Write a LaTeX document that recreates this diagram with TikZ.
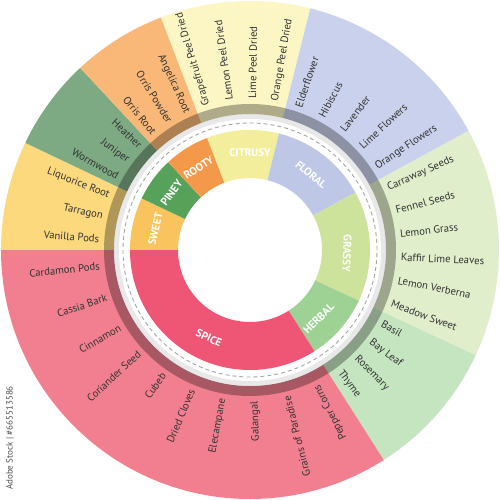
\documentclass[tikz,border=0pt]{standalone}
\usepackage{fontspec}
\setmainfont{PT Sans}
\usetikzlibrary{positioning}
\definecolor{citrusIn}{HTML}{F3EE9B}
\definecolor{citrusOut}{HTML}{FBF6C4}
\definecolor{floralIn}{HTML}{BFC7E6}
\definecolor{floralOut}{HTML}{CAD1EC}
\definecolor{grassyIn}{HTML}{CDE29B}
\definecolor{grassyOut}{HTML}{E1EECB}
\definecolor{herbalIn}{HTML}{9DD294}
\definecolor{herbalOut}{HTML}{C5E5C1}
\definecolor{spiceIn}{HTML}{EF5676}
\definecolor{spiceOut}{HTML}{F17F8F}
\definecolor{sweetIn}{HTML}{F9C35E}
\definecolor{sweetOut}{HTML}{FCD97D}
\definecolor{pineyIn}{HTML}{56A25A}
\definecolor{pineyOut}{HTML}{7DA983}
\definecolor{rootyIn}{HTML}{F4994A}
\definecolor{rootyOut}{HTML}{F9B877}
\definecolor{labelgray}{HTML}{333333}

\tikzset{
  outward/.style={anchor=west, inner sep=0pt, text=labelgray, font=\fontsize{10.7}{12}\selectfont},
  inward/.style={anchor=east, inner sep=0pt, text=labelgray, font=\fontsize{10.7}{12}\selectfont},
  catlabel/.style={inner sep=0pt, text=white, font=\bfseries\fontsize{11}{13}\selectfont},
  stockid/.style={inner sep=0pt, text=gray!60!black, font=\fontsize{9}{11}\selectfont}
}

% ring piece: colour, start angle, end angle, inner radius, outer radius
\newcommand{\sector}[5]{\fill[#1] (#2:#4pt) arc[start angle=#2, end angle=#3, radius=#4pt] -- (#3:#5pt) arc[start angle=#3, end angle=#2, radius=#5pt] -- cycle;}

% names round the outer ring: prefix, start, end, count, style, turn, names
\newcommand{\flavourlabels}[7]{%
  \foreach \txt [count=\i] in {#7} {%
    \pgfmathsetmacro\ang{#2-(\i-0.5)*(#2-(#3))/#4}%
    \pgfmathsetmacro\rot{\ang+#6}%
    \node[#5, rotate=\rot] (#1-\i) at (\ang:151pt) {\txt};
  }}

\begin{document}
\begin{tikzpicture}[x=1pt,y=1pt]
\useasboundingbox (-250,-250) rectangle (250,250);

% outer ring
\foreach \a/\b/\c in {111/76/citrusOut, 76/28.6/floralOut, 28.6/-25/grassyOut, -25/-57.5/herbalOut, -57.5/-180/spiceOut, 180/154.5/sweetOut, 154.5/133/pineyOut, 133/111/rootyOut}
  {\sector{\c}{\a}{\b}{136}{249}}

% white gap with shadow band
\fill[gray!18] (0,0) circle[radius=136pt];
\fill[white] (0,0) circle[radius=131pt];
\fill[black, opacity=.3, even odd rule] (0,0) circle[radius=146pt] circle[radius=136pt];
\draw[gray!70, line width=0.9pt, dash pattern=on 4pt off 3pt] (0,0) circle[radius=127pt];

% inner ring
\foreach \a/\b/\c in {111/76/citrusIn, 76/28.6/floralIn, 28.6/-25/grassyIn, -25/-57.5/herbalIn, -57.5/-180/spiceIn, 180/154.5/sweetIn, 154.5/133/pineyIn, 133/111/rootyIn}
  {\sector{\c}{\a}{\b}{72}{120}}

\foreach \a/\r/\t/\n in {90/0/CITRUSY/citrusy, 51/-39/FLORAL/floral, -2/-92/GRASSY/grassy, -45/45/HERBAL/herbal, -115/-25/SPICE/spice, 167.5/77.5/SWEET/sweet, 144/54/PINEY/piney, 122/32/ROOTY/rooty}
  \node[catlabel, rotate=\r] (\n) at (\a:97pt) {\t};

% flavour names
\flavourlabels{citrusy}{111}{76}{4}{outward}{0}{Grapefruit Peel Dried, Lemon Peel Dried, Lime Peel Dried, Orange Peel Dried}
\flavourlabels{floral}{76}{28.6}{5}{outward}{0}{Elderflower, Hibiscus, Lavender, Lime Flowers, Orange Flowers}
\flavourlabels{grassy}{28.6}{-25}{6}{outward}{0}{Carraway Seeds, Fennel Seeds, Lemon Grass, Kaffir Lime Leaves, Lemon Verberna, Meadow Sweet}
\flavourlabels{herbal}{-25}{-57.5}{4}{outward}{0}{Basil, Bay Leaf, Rosemary, Thyme}
\flavourlabels{spice}{-57.5}{-180}{10}{inward}{180}{Pepper Corns, Grains of Paradise, Galangal, Elecampane, Dried Cloves, Cubeb, Coriander Seed, Cinnamon, Cassia Bark, Cardamon Pods}
\flavourlabels{sweet}{180}{154.5}{3}{inward}{180}{Vanilla Pods, Tarragon, Liquorice Root}
\flavourlabels{piney}{154.5}{133}{3}{inward}{180}{Wormwood, Juniper, Heather}
\flavourlabels{rooty}{133}{111}{3}{inward}{180}{Orris Root, Orris Powder, Angelica Root}

\node[stockid, rotate=90] (stockid) at (-240,-188) {Adobe Stock | \#665513586};
\end{tikzpicture}
\end{document}
